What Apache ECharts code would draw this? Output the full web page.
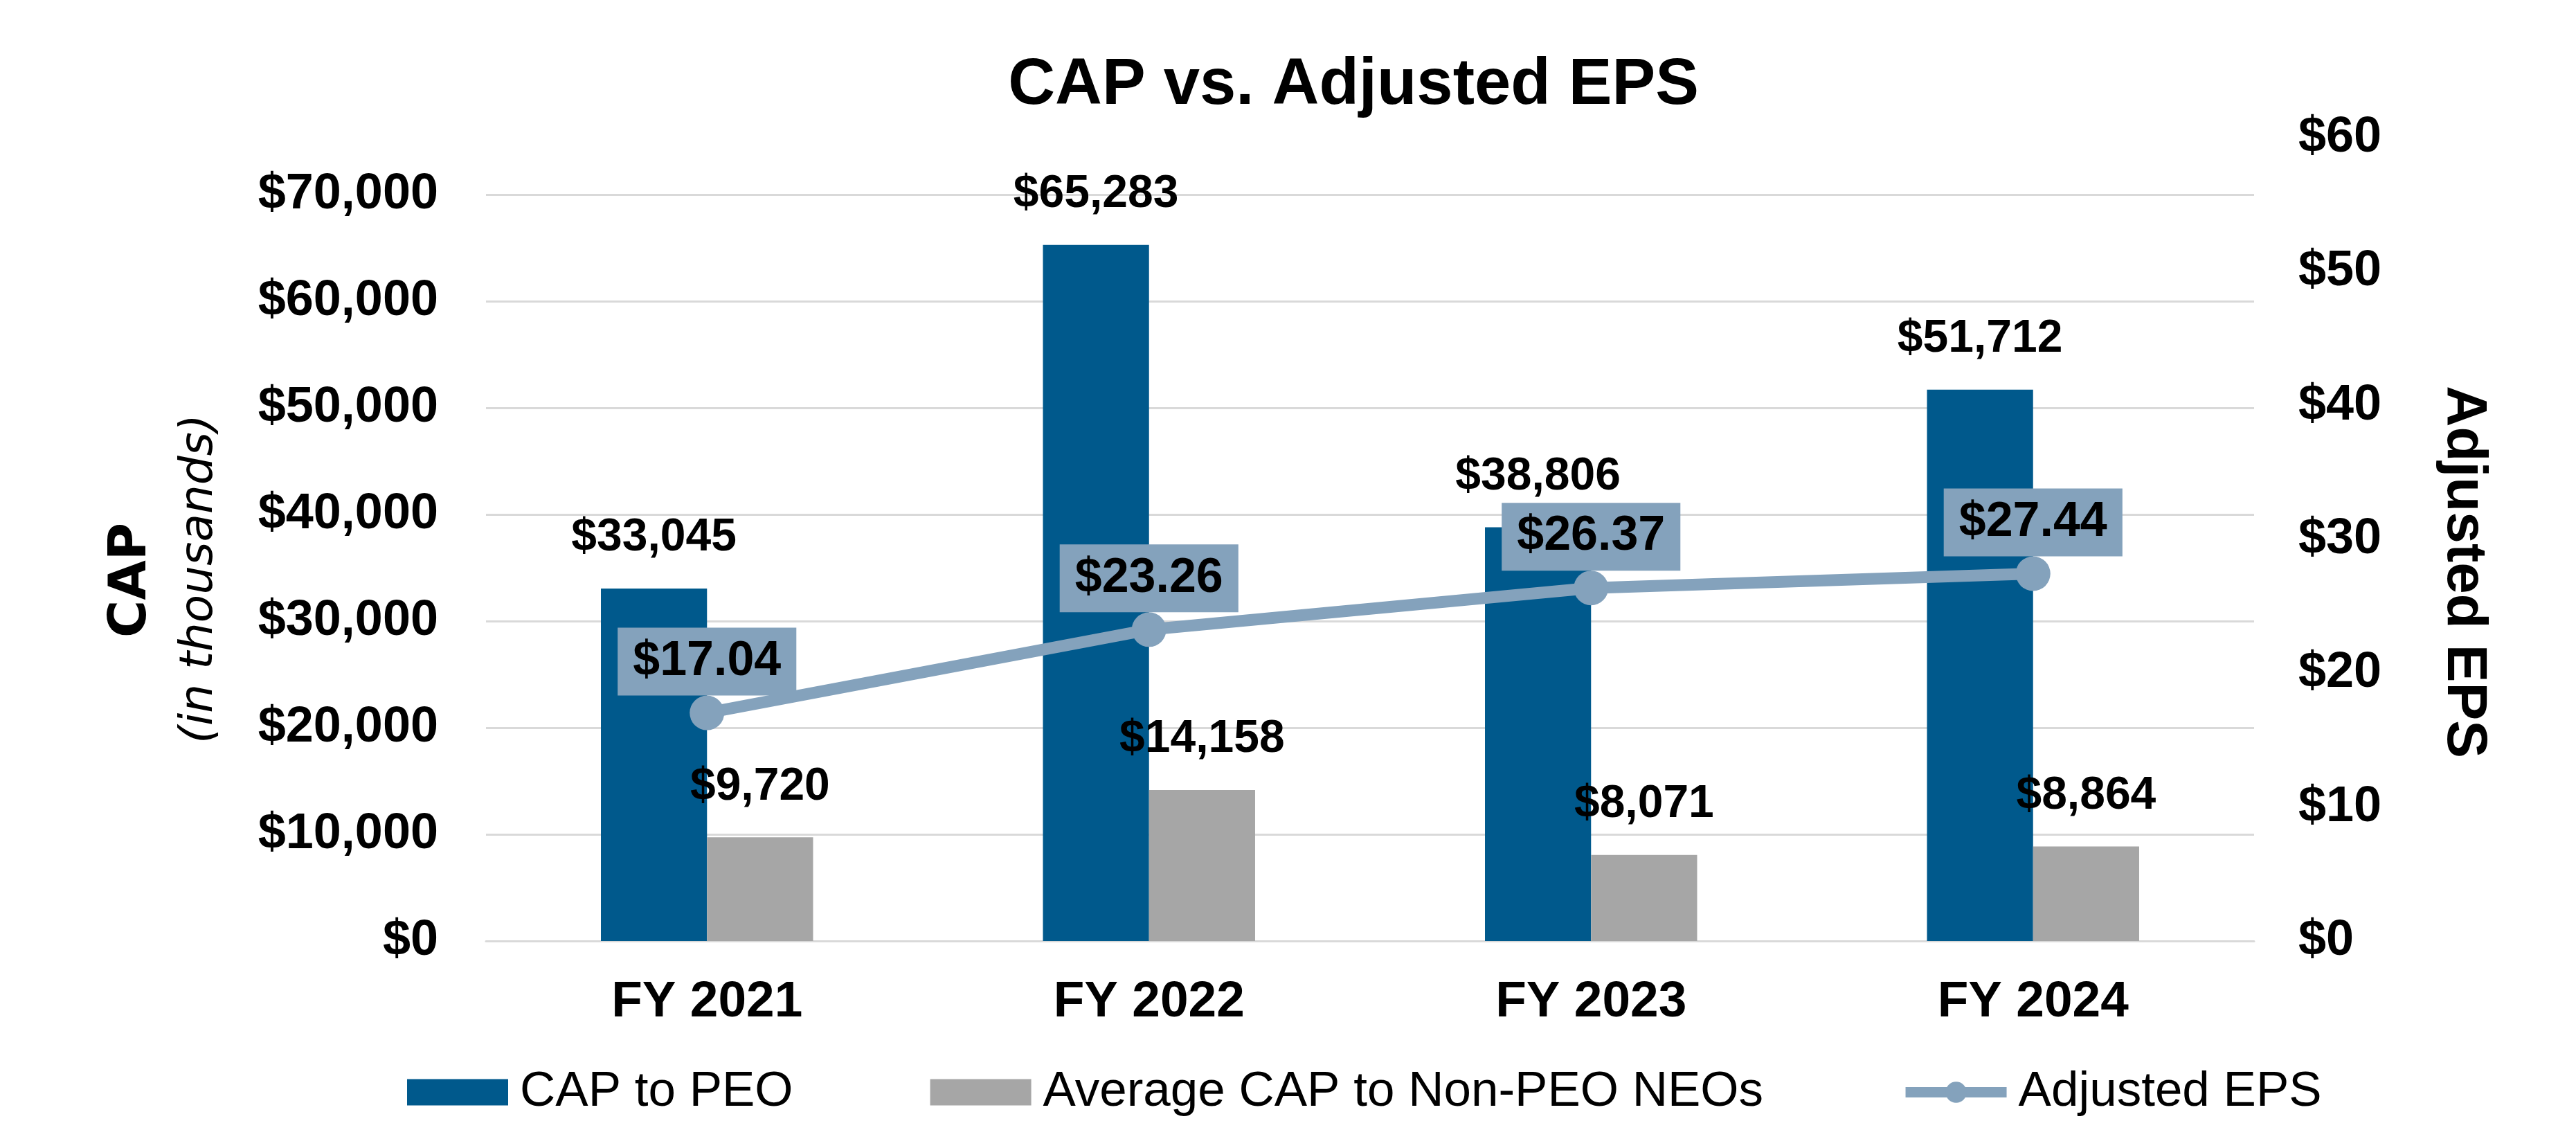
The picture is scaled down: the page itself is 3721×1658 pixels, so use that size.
<!DOCTYPE html>
<html>
<head>
<meta charset="utf-8">
<script src="https://cdn.jsdelivr.net/npm/echarts@6/dist/echarts.min.js"></script>
<style>
html,body{margin:0;padding:0;background:#fff;}
#chart{width:3721px;height:1658px;}
</style>
</head>
<body>
<div id="chart"></div>
<script>
const categories = ['FY 2021', 'FY 2022', 'FY 2023', 'FY 2024'];
const capToPeo = [33045, 65283, 38806, 51712];
const avgCapNonPeo = [9720, 14158, 8071, 8864];
const adjustedEps = [17.04, 23.26, 26.37, 27.44];
const capAxisTicks = [0, 10000, 20000, 30000, 40000, 50000, 60000, 70000];
const epsAxisTicks = [0, 10, 20, 30, 40, 50, 60];
const seriesNames = ['CAP to PEO', 'Average CAP to Non-PEO NEOs', 'Adjusted EPS'];

const FONT = 'Liberation Sans, Arial, sans-serif';
const BLUE = '#00598C';
const GRAY = '#A6A6A6';
const STEEL = '#84A2BC';
const GRID_COLOR = '#D9D9D9';

const money = v => '$' + Math.round(v).toLocaleString('en-US');

const chart = echarts.init(document.getElementById('chart'), null, {renderer: 'canvas'});

const option = {
  backgroundColor: '#ffffff',
  animation: false,
  title: {
    text: 'CAP vs. Adjusted EPS',
    left: 1950,
    textAlign: 'center',
    top: 72,
    textStyle: {fontFamily: FONT, fontSize: 94, fontWeight: 'bold', color: '#000'}
  },
  legend: {
    data: [
      {name: seriesNames[0], icon: 'rect'},
      {name: seriesNames[1], icon: 'rect'},
      {name: seriesNames[2], lineStyle: {width: 15}}
    ],
    left: 583,
    top: 1537,
    itemWidth: 146,
    itemHeight: 38,
    itemGap: 198,
    textStyle: {fontFamily: FONT, fontSize: 71, color: '#000', padding: [0, 0, 0, 12]}
  },
  grid: [
    {left: 702, right: 465, top: 281, bottom: 299, containLabel: false},
    {left: 702, right: 465, top: 199, bottom: 299, containLabel: false}
  ],
  xAxis: [
    {
      type: 'category', gridIndex: 0, data: categories,
      axisLine: {show: true, lineStyle: {color: GRID_COLOR, width: 3}},
      axisTick: {show: false},
      axisLabel: {fontFamily: FONT, fontSize: 73, fontWeight: 'bold', color: '#000', margin: 52}
    },
    {
      type: 'category', gridIndex: 1, data: categories, show: false
    }
  ],
  yAxis: [
    {
      type: 'value', gridIndex: 0,
      min: capAxisTicks[0], max: capAxisTicks[capAxisTicks.length - 1],
      interval: capAxisTicks[1] - capAxisTicks[0],
      axisLine: {show: false}, axisTick: {show: false},
      splitLine: {show: true, lineStyle: {color: GRID_COLOR, width: 3}},
      axisLabel: {fontFamily: FONT, fontSize: 72, fontWeight: 'bold', color: '#000', margin: 69,
        formatter: v => money(v)}
    },
    {
      type: 'value', gridIndex: 1, position: 'right',
      min: epsAxisTicks[0], max: epsAxisTicks[epsAxisTicks.length - 1],
      interval: epsAxisTicks[1] - epsAxisTicks[0],
      axisLine: {show: false}, axisTick: {show: false},
      splitLine: {show: false},
      axisLabel: {fontFamily: FONT, fontSize: 72, fontWeight: 'bold', color: '#000', margin: 64,
        formatter: v => '$' + v}
    }
  ],
  series: [
    {
      name: seriesNames[0], type: 'bar', xAxisIndex: 0, yAxisIndex: 0,
      data: capToPeo,
      itemStyle: {color: BLUE},
      barGap: '0%', barCategoryGap: '52%',
      z: 2,
      label: {show: true, position: 'top', distance: 40,
        fontFamily: FONT, fontSize: 66, fontWeight: 'bold', color: '#000',
        formatter: p => money(p.value)}
    },
    {
      name: seriesNames[1], type: 'bar', xAxisIndex: 0, yAxisIndex: 0,
      data: avgCapNonPeo,
      itemStyle: {color: GRAY},
      barGap: '0%', barCategoryGap: '52%',
      z: 2,
      label: {show: true, position: 'top', distance: 40,
        fontFamily: FONT, fontSize: 66, fontWeight: 'bold', color: '#000',
        formatter: p => money(p.value)}
    },
    {
      name: seriesNames[2], type: 'line', xAxisIndex: 1, yAxisIndex: 1,
      data: adjustedEps,
      symbol: 'circle', symbolSize: 50,
      lineStyle: {color: STEEL, width: 17},
      itemStyle: {color: STEEL},
      z: 5,
      label: {show: true, position: 'top', distance: 0,
        backgroundColor: STEEL, padding: [14, 22],
        fontFamily: FONT, fontSize: 70, fontWeight: 'bold', color: '#000',
        formatter: p => '$' + p.value.toFixed(2)}
    }
  ],
  graphic: [
    {
      type: 'text', x: 191, y: 838, rotation: Math.PI / 2,
      style: {text: 'CAP', fontFamily: 'DejaVu Sans, sans-serif', fontSize: 74, fontWeight: 'bold',
        fill: '#000', textAlign: 'center', textVerticalAlign: 'middle'}
    },
    {
      type: 'text', x: 289, y: 836, rotation: Math.PI / 2,
      style: {text: '(in thousands)', fontFamily: 'DejaVu Sans, sans-serif', fontSize: 66, fontStyle: 'italic',
        fill: '#000', textAlign: 'center', textVerticalAlign: 'middle'}
    },
    {
      type: 'text', x: 3559, y: 826, rotation: -Math.PI / 2,
      style: {text: 'Adjusted EPS', fontFamily: FONT, fontSize: 82, fontWeight: 'bold',
        fill: '#000', textAlign: 'center', textVerticalAlign: 'middle'}
    }
  ]
};
chart.setOption(option);
</script>
</body>
</html>
